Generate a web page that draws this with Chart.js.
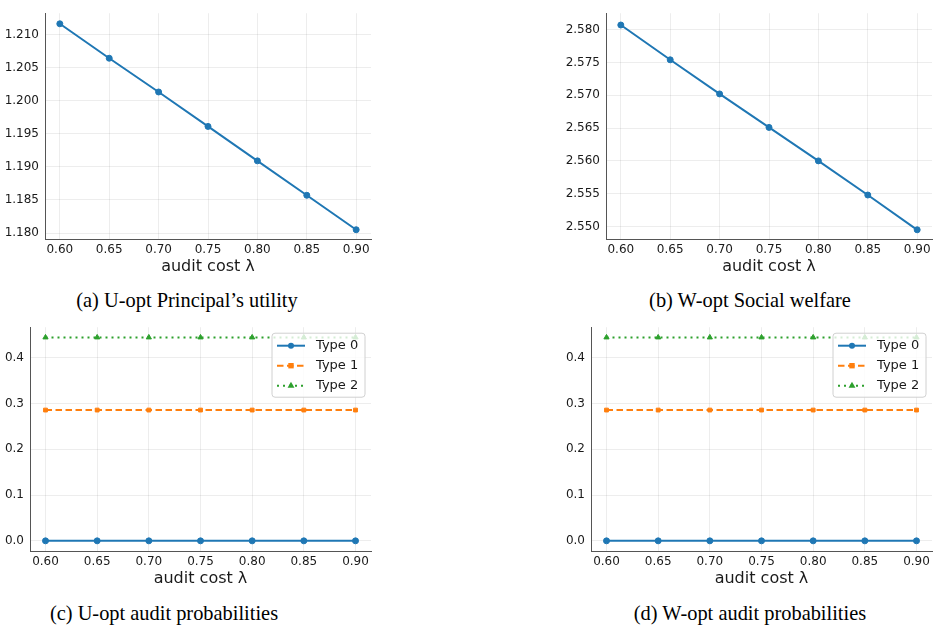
<!DOCTYPE html>
<html>
<head>
<meta charset="utf-8">
<script src="https://cdn.jsdelivr.net/npm/chart.js@4.4.0/dist/chart.umd.min.js"></script>
<style>
  body { margin: 0; background: #fff; width: 940px; height: 630px; position: relative; overflow: hidden; }
  canvas { position: absolute; }
  .cap { position: absolute; font-family: "Liberation Serif", serif; font-size: 20.4px; color: #000;
         transform: translateX(-50%); white-space: nowrap; line-height: 22px; }
</style>
</head>
<body>
<canvas id="chartA" width="380" height="280" style="left:0;top:0"></canvas>
<canvas id="chartB" width="380" height="280" style="left:560px;top:0"></canvas>
<canvas id="chartC" width="380" height="278" style="left:0;top:314px"></canvas>
<canvas id="chartD" width="380" height="278" style="left:560px;top:314px"></canvas>
<div class="cap" style="left:187px;top:289px">(a) U-opt Principal’s utility</div>
<div class="cap" style="left:750px;top:289px">(b) W-opt Social welfare</div>
<div class="cap" style="left:164px;top:602px">(c) U-opt audit probabilities</div>
<div class="cap" style="left:750px;top:602px">(d) W-opt audit probabilities</div>
<script>
// audit cost values (x) and tick labels
const lambdas = [0.60, 0.65, 0.70, 0.75, 0.80, 0.85, 0.90];
const lambdaTicks = [0.60, 0.65, 0.70, 0.75, 0.80, 0.85, 0.90];

// (a) / (b) objective values
const uOptUtility = [1.2116, 1.2064, 1.2013, 1.1961, 1.1909, 1.1857, 1.1805];
const wOptWelfare = [2.5807, 2.5754, 2.5702, 2.5651, 2.5600, 2.5548, 2.5495];
const utilityTicks = [1.180, 1.185, 1.190, 1.195, 1.200, 1.205, 1.210];
const welfareTicks = [2.550, 2.555, 2.560, 2.565, 2.570, 2.575, 2.580];

// (c) / (d) audit probabilities per type
const uOptType0 = [0.0, 0.0, 0.0, 0.0, 0.0, 0.0, 0.0];
const uOptType1 = [0.2857, 0.2857, 0.2857, 0.2857, 0.2857, 0.2857, 0.2857];
const uOptType2 = [0.4444, 0.4444, 0.4444, 0.4444, 0.4444, 0.4444, 0.4444];
const wOptType0 = [0.0, 0.0, 0.0, 0.0, 0.0, 0.0, 0.0];
const wOptType1 = [0.2857, 0.2857, 0.2857, 0.2857, 0.2857, 0.2857, 0.2857];
const wOptType2 = [0.4444, 0.4444, 0.4444, 0.4444, 0.4444, 0.4444, 0.4444];
const probTicks = [0.0, 0.1, 0.2, 0.3, 0.4];

const BLUE = '#1f77b4', ORANGE = '#ff7f0e', GREEN = '#2ca02c';
const GRID = 'rgba(0,0,0,0.07)', SPINE = '#555', TEXT = '#1a1a1a';
const FONT = 'DejaVu Sans';

const pts = (ys) => ys.map((y, i) => ({ x: lambdas[i], y }));

function line(label, ys, color, dash, style, r) {
  return {
    label, data: pts(ys), borderColor: color, backgroundColor: color,
    borderWidth: 2, borderDash: dash, borderCapStyle: 'butt',
    pointStyle: style, pointRadius: r, pointBackgroundColor: color,
    pointBorderColor: color, pointBorderWidth: 1, tension: 0
  };
}

function drawMarker(ctx, style, x, y, r, color) {
  ctx.fillStyle = color;
  ctx.beginPath();
  if (style === 'rect') ctx.rect(x - r, y - r, 2 * r, 2 * r);
  else if (style === 'triangle') { ctx.moveTo(x, y - r * 1.3); ctx.lineTo(x + r * 1.15, y + r * 0.7); ctx.lineTo(x - r * 1.15, y + r * 0.7); ctx.closePath(); }
  else ctx.arc(x, y, r, 0, Math.PI * 2);
  ctx.fill();
}

// legend box drawn over the lines, top-right of the plot area
const boxLegend = {
  id: 'boxLegend',
  afterDatasetsDraw(chart) {
    const { ctx, chartArea: a } = chart;
    const w = 93, h = 64, x = a.right - 6 - w, y = a.top + 6, rr = 3;
    ctx.save();
    ctx.fillStyle = 'rgba(255,255,255,0.8)';
    ctx.strokeStyle = '#d0d0d0';
    ctx.lineWidth = 1;
    ctx.beginPath();
    ctx.moveTo(x + rr, y); ctx.lineTo(x + w - rr, y); ctx.quadraticCurveTo(x + w, y, x + w, y + rr);
    ctx.lineTo(x + w, y + h - rr); ctx.quadraticCurveTo(x + w, y + h, x + w - rr, y + h);
    ctx.lineTo(x + rr, y + h); ctx.quadraticCurveTo(x, y + h, x, y + h - rr);
    ctx.lineTo(x, y + rr); ctx.quadraticCurveTo(x, y, x + rr, y);
    ctx.fill(); ctx.stroke();
    chart.data.datasets.forEach((ds, i) => {
      const cy = y + 12.5 + i * 20;
      ctx.strokeStyle = ds.borderColor; ctx.lineWidth = 2; ctx.setLineDash(ds.borderDash || []);
      ctx.beginPath(); ctx.moveTo(x + 5, cy); ctx.lineTo(x + 33, cy); ctx.stroke();
      ctx.setLineDash([]);
      drawMarker(ctx, ds.pointStyle, x + 19, cy, ds.pointRadius, ds.borderColor);
      ctx.fillStyle = TEXT; ctx.font = '13px "' + FONT + '"'; ctx.textBaseline = 'middle';
      ctx.fillText(ds.label, x + 44, cy);
    });
    ctx.restore();
  }
};

function makeChart(id, datasets, yMin, yMax, yTicks, yDigits, yWidth, padRight, withLegend) {
  return new Chart(document.getElementById(id), {
    type: 'line',
    data: { datasets },
    plugins: withLegend ? [boxLegend] : [],
    options: {
      responsive: false, animation: false,
      layout: { padding: { top: 6, right: padRight, left: 0, bottom: 0 } },
      plugins: { legend: { display: false }, tooltip: { enabled: false } },
      scales: {
        x: {
          type: 'linear', min: 0.585, max: 0.915,
          afterBuildTicks: s => { s.ticks = lambdaTicks.map(v => ({ value: v })); },
          afterFit: s => { s.height = 41; },
          grid: { color: GRID, drawTicks: false },
          border: { color: SPINE, width: 1 },
          ticks: { padding: 4, color: TEXT, font: { family: FONT, size: 12 }, callback: v => v.toFixed(2) },
          title: { display: true, text: 'audit cost λ', color: TEXT, font: { family: FONT, size: 16 }, padding: { top: 0, bottom: 4 } }
        },
        y: {
          min: yMin, max: yMax,
          afterBuildTicks: s => { s.ticks = yTicks.map(v => ({ value: v })); },
          afterFit: s => { s.width = yWidth; },
          grid: { color: GRID, drawTicks: false },
          border: { color: SPINE, width: 1 },
          ticks: { padding: 6, color: TEXT, font: { family: FONT, size: 12 }, callback: v => v.toFixed(yDigits) }
        }
      }
    }
  });
}

makeChart('chartA', [line('U-opt', uOptUtility, BLUE, [], 'circle', 3)],
  1.1791, 1.2132, utilityTicks, 3, 45, 9, false);
makeChart('chartB', [line('W-opt', wOptWelfare, BLUE, [], 'circle', 3)],
  2.5481, 2.5825, welfareTicks, 3, 46, 8, false);
makeChart('chartC', [
  line('Type 0', uOptType0, BLUE, [], 'circle', 3),
  line('Type 1', uOptType1, ORANGE, [6.5, 3.5], 'rect', 2.7),
  line('Type 2', uOptType2, GREEN, [2, 4], 'triangle', 3)
], -0.0222, 0.4667, probTicks, 1, 30, 9, true);
makeChart('chartD', [
  line('Type 0', wOptType0, BLUE, [], 'circle', 3),
  line('Type 1', wOptType1, ORANGE, [6.5, 3.5], 'rect', 2.7),
  line('Type 2', wOptType2, GREEN, [2, 4], 'triangle', 3)
], -0.0222, 0.4667, probTicks, 1, 31, 8, true);
</script>
</body>
</html>
